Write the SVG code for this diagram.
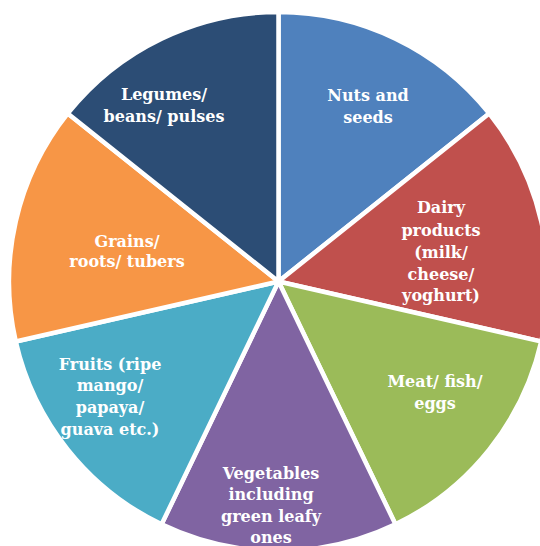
<svg xmlns="http://www.w3.org/2000/svg" width="540" height="546" viewBox="0 0 540 546">
<style>
.s{stroke:#fff;stroke-width:4.5;stroke-linejoin:round}
.t{font-family:"DejaVu Serif","Liberation Serif",serif;font-weight:bold;font-size:16px;fill:#fff;text-anchor:middle}
</style>
<rect width="540" height="546" fill="#fff"/>
<g id="nuts">
<path class="s" fill="#4F81BD" d="M278.5,281.5 L278.5,12 A269.5,269.5 0 0 1 489.2,113.47 Z"/>
<text class="t"><tspan x="368" y="101">Nuts and</tspan><tspan x="368" y="123">seeds</tspan></text>
</g>
<g id="dairy">
<path class="s" fill="#C0504D" d="M278.5,281.5 L489.2,113.47 A269.5,269.5 0 0 1 541.24,341.47 Z"/>
<text class="t"><tspan x="441" y="213">Dairy</tspan><tspan x="441" y="235.5">products</tspan><tspan x="441" y="258">(milk/</tspan><tspan x="441" y="280">cheese/</tspan><tspan x="441" y="301">yoghurt)</tspan></text>
</g>
<g id="meat">
<path class="s" fill="#9BBB59" d="M278.5,281.5 L541.24,341.47 A269.5,269.5 0 0 1 395.43,524.31 Z"/>
<text class="t"><tspan x="435" y="387">Meat/ fish/</tspan><tspan x="435" y="408.5">eggs</tspan></text>
</g>
<g id="vegetables">
<path class="s" fill="#8064A2" d="M278.5,281.5 L395.43,524.31 A269.5,269.5 0 0 1 161.57,524.31 Z"/>
<text class="t"><tspan x="271" y="478.5">Vegetables</tspan><tspan x="271" y="500">including</tspan><tspan x="271" y="522">green leafy</tspan><tspan x="271" y="543">ones</tspan></text>
</g>
<g id="fruits">
<path class="s" fill="#4BACC6" d="M278.5,281.5 L161.57,524.31 A269.5,269.5 0 0 1 15.76,341.47 Z"/>
<text class="t"><tspan x="110" y="369.5">Fruits (ripe</tspan><tspan x="110" y="391">mango/</tspan><tspan x="110" y="413">papaya/</tspan><tspan x="110" y="435">guava etc.)</tspan></text>
</g>
<g id="grains">
<path class="s" fill="#F79646" d="M278.5,281.5 L15.76,341.47 A269.5,269.5 0 0 1 67.8,113.47 Z"/>
<text class="t"><tspan x="127" y="246.5">Grains/</tspan><tspan x="127" y="267">roots/ tubers</tspan></text>
</g>
<g id="legumes">
<path class="s" fill="#2C4D75" d="M278.5,281.5 L67.8,113.47 A269.5,269.5 0 0 1 278.5,12 Z"/>
<text class="t"><tspan x="164" y="100">Legumes/</tspan><tspan x="164" y="122">beans/ pulses</tspan></text>
</g>
<g id="connectors"></g>
</svg>
